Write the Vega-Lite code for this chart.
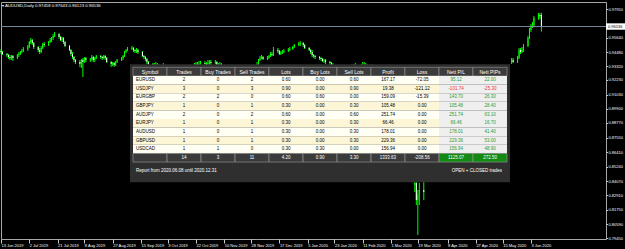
{
"$schema":"https://vega.github.io/schema/vega-lite/v6.json",
"width":605,"height":237,
"autosize":{"type":"none"},
"padding":{"left":1,"top":2,"right":19,"bottom":10},
"background":"#000000",
"config":{"view":{"stroke":"#a8a8a8","strokeWidth":1},"font":"Liberation Sans",
 "axis":{"labelOverlap":false,"labelBound":false,"labelFlush":false,"grid":false,"domain":false,"title":null,"labelFont":"Liberation Sans","labelFontSize":4,"labelColor":"#ffffff","tickColor":"#c8c8c8","tickWidth":1},
 "axisX":{"labelAlign":"left","labelBaseline":"top","labelPadding":0,"labelDx":1,"tickSize":4},
 "axisY":{"labelAlign":"left","labelBaseline":"middle","labelPadding":0.5,"tickSize":1.5}},
"title":{"text":"▾ AUDUSD,Daily  0.97458 0.97643 0.96123 0.96536","anchor":"start","frame":"group","orient":"top","offset":-6,"dx":1,"fontSize":4.3,"fontWeight":"normal","color":"#ffffff","font":"Liberation Sans"},
"datasets":{
"candles":[
{"d":"2019-06-13","o":0.94562,"h":0.94723,"l":0.94320,"c":0.94481},
{"d":"2019-06-14","o":0.94481,"h":0.94562,"l":0.94239,"c":0.94320},
{"d":"2019-06-17","o":0.94320,"h":0.94400,"l":0.94077,"c":0.94239},
{"d":"2019-06-18","o":0.94239,"h":0.94320,"l":0.93916,"c":0.94077},
{"d":"2019-06-19","o":0.94077,"h":0.94239,"l":0.93835,"c":0.93997},
{"d":"2019-06-20","o":0.93997,"h":0.94239,"l":0.93835,"c":0.94158},
{"d":"2019-06-21","o":0.94158,"h":0.94239,"l":0.93755,"c":0.93997},
{"d":"2019-06-24","o":0.93997,"h":0.94320,"l":0.93916,"c":0.94239},
{"d":"2019-06-25","o":0.94239,"h":0.94481,"l":0.94077,"c":0.94320},
{"d":"2019-06-26","o":0.94320,"h":0.94562,"l":0.94239,"c":0.94481},
{"d":"2019-06-27","o":0.94481,"h":0.94723,"l":0.94400,"c":0.94562},
{"d":"2019-06-28","o":0.94562,"h":0.94884,"l":0.94481,"c":0.94723},
{"d":"2019-07-01","o":0.94723,"h":0.95046,"l":0.94562,"c":0.94884},
{"d":"2019-07-02","o":0.94884,"h":0.95368,"l":0.94804,"c":0.95288},
{"d":"2019-07-03","o":0.95288,"h":0.95610,"l":0.95126,"c":0.95449},
{"d":"2019-07-04","o":0.95449,"h":0.95530,"l":0.95046,"c":0.95207},
{"d":"2019-07-05","o":0.95207,"h":0.95288,"l":0.94723,"c":0.94884},
{"d":"2019-07-08","o":0.94884,"h":0.94965,"l":0.94481,"c":0.94642},
{"d":"2019-07-09","o":0.94642,"h":0.94804,"l":0.94320,"c":0.94481},
{"d":"2019-07-10","o":0.94481,"h":0.94965,"l":0.94400,"c":0.94804},
{"d":"2019-07-11","o":0.94804,"h":0.95207,"l":0.94723,"c":0.95126},
{"d":"2019-07-12","o":0.95126,"h":0.95288,"l":0.94884,"c":0.95046},
{"d":"2019-07-15","o":0.95046,"h":0.95368,"l":0.94965,"c":0.95288},
{"d":"2019-07-16","o":0.95288,"h":0.95610,"l":0.95207,"c":0.95449},
{"d":"2019-07-17","o":0.95449,"h":0.95691,"l":0.95288,"c":0.95610},
{"d":"2019-07-18","o":0.95610,"h":0.95933,"l":0.95449,"c":0.95772},
{"d":"2019-07-19","o":0.95772,"h":0.96094,"l":0.95691,"c":0.95933},
{"d":"2019-07-22","o":0.95933,"h":0.96014,"l":0.95530,"c":0.95691},
{"d":"2019-07-23","o":0.95691,"h":0.95772,"l":0.95368,"c":0.95449},
{"d":"2019-07-24","o":0.95449,"h":0.95691,"l":0.95288,"c":0.95610},
{"d":"2019-07-25","o":0.95610,"h":0.95691,"l":0.95126,"c":0.95288},
{"d":"2019-07-26","o":0.95288,"h":0.95368,"l":0.94884,"c":0.94965},
{"d":"2019-07-29","o":0.94965,"h":0.95046,"l":0.94562,"c":0.94642},
{"d":"2019-07-30","o":0.94642,"h":0.94723,"l":0.94158,"c":0.94320},
{"d":"2019-07-31","o":0.94320,"h":0.94481,"l":0.93916,"c":0.94077},
{"d":"2019-08-01","o":0.94077,"h":0.94158,"l":0.93674,"c":0.93835},
{"d":"2019-08-02","o":0.93835,"h":0.93916,"l":0.93513,"c":0.93674},
{"d":"2019-08-05","o":0.93674,"h":0.93835,"l":0.93271,"c":0.93513},
{"d":"2019-08-06","o":0.93513,"h":0.93916,"l":0.93190,"c":0.93835},
{"d":"2019-08-07","o":0.93835,"h":0.93997,"l":0.92464,"c":0.93674},
{"d":"2019-08-08","o":0.93674,"h":0.94077,"l":0.93593,"c":0.93997},
{"d":"2019-08-09","o":0.93997,"h":0.94077,"l":0.93674,"c":0.93835},
{"d":"2019-08-12","o":0.93835,"h":0.93997,"l":0.93674,"c":0.93916},
{"d":"2019-08-13","o":0.93916,"h":0.94239,"l":0.93755,"c":0.94077},
{"d":"2019-08-14","o":0.94077,"h":0.94158,"l":0.93674,"c":0.93835},
{"d":"2019-08-15","o":0.93835,"h":0.94077,"l":0.93674,"c":0.93997},
{"d":"2019-08-16","o":0.93997,"h":0.94239,"l":0.93916,"c":0.94158},
{"d":"2019-08-19","o":0.94158,"h":0.94239,"l":0.93916,"c":0.94077},
{"d":"2019-08-20","o":0.94077,"h":0.94158,"l":0.93835,"c":0.93997},
{"d":"2019-08-21","o":0.93997,"h":0.94239,"l":0.93916,"c":0.94158},
{"d":"2019-08-22","o":0.94158,"h":0.94239,"l":0.93835,"c":0.93997},
{"d":"2019-08-23","o":0.93997,"h":0.94077,"l":0.93593,"c":0.93674},
{"d":"2019-08-26","o":0.93674,"h":0.93755,"l":0.93271,"c":0.93513},
{"d":"2019-08-27","o":0.93513,"h":0.93674,"l":0.93351,"c":0.93593},
{"d":"2019-08-28","o":0.93593,"h":0.93674,"l":0.93271,"c":0.93432},
{"d":"2019-08-29","o":0.93432,"h":0.93755,"l":0.93351,"c":0.93674},
{"d":"2019-08-30","o":0.93674,"h":0.93916,"l":0.93593,"c":0.93835},
{"d":"2019-09-02","o":0.93835,"h":0.94077,"l":0.93755,"c":0.93997},
{"d":"2019-09-03","o":0.93997,"h":0.94239,"l":0.93835,"c":0.94158},
{"d":"2019-09-04","o":0.94158,"h":0.94562,"l":0.94077,"c":0.94481},
{"d":"2019-09-05","o":0.94481,"h":0.94723,"l":0.94400,"c":0.94642},
{"d":"2019-09-06","o":0.94642,"h":0.94884,"l":0.94562,"c":0.94723},
{"d":"2019-09-09","o":0.94723,"h":0.94965,"l":0.94642,"c":0.94804},
{"d":"2019-09-10","o":0.94804,"h":0.94884,"l":0.94481,"c":0.94642},
{"d":"2019-09-11","o":0.94642,"h":0.94723,"l":0.94400,"c":0.94562},
{"d":"2019-09-12","o":0.94562,"h":0.94804,"l":0.94400,"c":0.94642},
{"d":"2019-09-13","o":0.94642,"h":0.94723,"l":0.94320,"c":0.94481},
{"d":"2019-09-16","o":0.94481,"h":0.94562,"l":0.94077,"c":0.94158},
{"d":"2019-09-17","o":0.94158,"h":0.94239,"l":0.93916,"c":0.94077},
{"d":"2019-09-18","o":0.94077,"h":0.94158,"l":0.93755,"c":0.93916},
{"d":"2019-09-19","o":0.93916,"h":0.93997,"l":0.93513,"c":0.93674},
{"d":"2019-09-20","o":0.93674,"h":0.93755,"l":0.93351,"c":0.93513},
{"d":"2019-09-23","o":0.93513,"h":0.93593,"l":0.93190,"c":0.93351},
{"d":"2019-09-24","o":0.93351,"h":0.93593,"l":0.93190,"c":0.93432},
{"d":"2019-09-25","o":0.93432,"h":0.93674,"l":0.93109,"c":0.93271},
{"d":"2019-09-26","o":0.93271,"h":0.93593,"l":0.93109,"c":0.93351},
{"d":"2019-09-27","o":0.93351,"h":0.93513,"l":0.93029,"c":0.93190},
{"d":"2019-09-30","o":0.93190,"h":0.93593,"l":0.93029,"c":0.93271},
{"d":"2019-10-21","o":0.93190,"h":0.93593,"l":0.93109,"c":0.93351},
{"d":"2019-10-22","o":0.93351,"h":0.93674,"l":0.93190,"c":0.93513},
{"d":"2019-10-23","o":0.93513,"h":0.93674,"l":0.93271,"c":0.93432},
{"d":"2019-10-24","o":0.93432,"h":0.93755,"l":0.93351,"c":0.93513},
{"d":"2019-10-25","o":0.93513,"h":0.93755,"l":0.93351,"c":0.93593},
{"d":"2019-10-28","o":0.93593,"h":0.93755,"l":0.93351,"c":0.93513},
{"d":"2019-10-29","o":0.93513,"h":0.93674,"l":0.93271,"c":0.93432},
{"d":"2019-10-30","o":0.93432,"h":0.93835,"l":0.93351,"c":0.93593},
{"d":"2019-10-31","o":0.93593,"h":0.93835,"l":0.93432,"c":0.93674},
{"d":"2019-11-01","o":0.93674,"h":0.93835,"l":0.93432,"c":0.93593},
{"d":"2019-11-04","o":0.93593,"h":0.93835,"l":0.93513,"c":0.93674},
{"d":"2019-11-05","o":0.93674,"h":0.93755,"l":0.93271,"c":0.93432},
{"d":"2019-11-06","o":0.93432,"h":0.93593,"l":0.93190,"c":0.93351},
{"d":"2019-11-07","o":0.93351,"h":0.93674,"l":0.93271,"c":0.93513},
{"d":"2019-11-08","o":0.93513,"h":0.93593,"l":0.93109,"c":0.93271},
{"d":"2019-12-02","o":0.93351,"h":0.93674,"l":0.93271,"c":0.93513},
{"d":"2019-12-03","o":0.93513,"h":0.93916,"l":0.93432,"c":0.93835},
{"d":"2019-12-04","o":0.93835,"h":0.94158,"l":0.93755,"c":0.93997},
{"d":"2019-12-05","o":0.93997,"h":0.94239,"l":0.93916,"c":0.94077},
{"d":"2019-12-06","o":0.94077,"h":0.94158,"l":0.93835,"c":0.93916},
{"d":"2019-12-09","o":0.93916,"h":0.94158,"l":0.93835,"c":0.93997},
{"d":"2019-12-10","o":0.93997,"h":0.94239,"l":0.93916,"c":0.94158},
{"d":"2019-12-11","o":0.94158,"h":0.94481,"l":0.94077,"c":0.94320},
{"d":"2019-12-12","o":0.94320,"h":0.94481,"l":0.94158,"c":0.94239},
{"d":"2019-12-13","o":0.94239,"h":0.94884,"l":0.94158,"c":0.94642},
{"d":"2019-12-16","o":0.94642,"h":0.94804,"l":0.94400,"c":0.94562},
{"d":"2019-12-17","o":0.94562,"h":0.94642,"l":0.94239,"c":0.94320},
{"d":"2019-12-18","o":0.94320,"h":0.94562,"l":0.94239,"c":0.94400},
{"d":"2019-12-19","o":0.94400,"h":0.94642,"l":0.94320,"c":0.94481},
{"d":"2019-12-20","o":0.94481,"h":0.94723,"l":0.94400,"c":0.94562},
{"d":"2019-12-23","o":0.94562,"h":0.94804,"l":0.94481,"c":0.94642},
{"d":"2019-12-24","o":0.94642,"h":0.94884,"l":0.94562,"c":0.94723},
{"d":"2019-12-26","o":0.94723,"h":0.94965,"l":0.94642,"c":0.94884},
{"d":"2019-12-27","o":0.94884,"h":0.95126,"l":0.94804,"c":0.95046},
{"d":"2019-12-30","o":0.95046,"h":0.95288,"l":0.94965,"c":0.95126},
{"d":"2019-12-31","o":0.95126,"h":0.95368,"l":0.94965,"c":0.95207},
{"d":"2020-01-02","o":0.95207,"h":0.95288,"l":0.94884,"c":0.95046},
{"d":"2020-01-03","o":0.95046,"h":0.95126,"l":0.94723,"c":0.94804},
{"d":"2020-01-06","o":0.94804,"h":0.94884,"l":0.94562,"c":0.94642},
{"d":"2020-01-07","o":0.94642,"h":0.94723,"l":0.94320,"c":0.94481},
{"d":"2020-01-08","o":0.94481,"h":0.94642,"l":0.94077,"c":0.94239},
{"d":"2020-01-09","o":0.94239,"h":0.94320,"l":0.93997,"c":0.94158},
{"d":"2020-01-10","o":0.94158,"h":0.94239,"l":0.93916,"c":0.94077},
{"d":"2020-01-13","o":0.94077,"h":0.94158,"l":0.93835,"c":0.93997},
{"d":"2020-01-14","o":0.93997,"h":0.94077,"l":0.93755,"c":0.93916},
{"d":"2020-01-15","o":0.93916,"h":0.93997,"l":0.93674,"c":0.93755},
{"d":"2020-01-16","o":0.93755,"h":0.93916,"l":0.93593,"c":0.93835},
{"d":"2020-01-17","o":0.93835,"h":0.93916,"l":0.93513,"c":0.93674},
{"d":"2020-01-20","o":0.93674,"h":0.93755,"l":0.93432,"c":0.93593},
{"d":"2020-01-21","o":0.93593,"h":0.93674,"l":0.93271,"c":0.93432},
{"d":"2020-01-22","o":0.93432,"h":0.93593,"l":0.93190,"c":0.93271},
{"d":"2020-01-23","o":0.93271,"h":0.93432,"l":0.93029,"c":0.93190},
{"d":"2020-02-05","o":0.92867,"h":0.93513,"l":0.92787,"c":0.93029},
{"d":"2020-02-06","o":0.93029,"h":0.93593,"l":0.92948,"c":0.93190},
{"d":"2020-02-07","o":0.93190,"h":0.93432,"l":0.92867,"c":0.93029},
{"d":"2020-02-10","o":0.93029,"h":0.93513,"l":0.92948,"c":0.93109},
{"d":"2020-02-11","o":0.93109,"h":0.93674,"l":0.93029,"c":0.93271},
{"d":"2020-02-12","o":0.93271,"h":0.93674,"l":0.93109,"c":0.93351},
{"d":"2020-02-13","o":0.93351,"h":0.93593,"l":0.93029,"c":0.93190},
{"d":"2020-02-14","o":0.93190,"h":0.93513,"l":0.92867,"c":0.93029},
{"d":"2020-02-17","o":0.93029,"h":0.93513,"l":0.92948,"c":0.93109},
{"d":"2020-03-17","o":0.83751,"h":0.84315,"l":0.83186,"c":0.83912},
{"d":"2020-03-18","o":0.83912,"h":0.84154,"l":0.82137,"c":0.82540},
{"d":"2020-03-19","o":0.82540,"h":0.83347,"l":0.79717,"c":0.82944},
{"d":"2020-03-20","o":0.82944,"h":0.83912,"l":0.82137,"c":0.83347},
{"d":"2020-03-23","o":0.83347,"h":0.83993,"l":0.82540,"c":0.83186},
{"d":"2020-05-21","o":0.93674,"h":0.93997,"l":0.93513,"c":0.93835},
{"d":"2020-05-22","o":0.93835,"h":0.93997,"l":0.93593,"c":0.93674},
{"d":"2020-05-25","o":0.93674,"h":0.94158,"l":0.93593,"c":0.93997},
{"d":"2020-05-26","o":0.93997,"h":0.94804,"l":0.93916,"c":0.94642},
{"d":"2020-05-27","o":0.94642,"h":0.94804,"l":0.94320,"c":0.94481},
{"d":"2020-05-28","o":0.94481,"h":0.94884,"l":0.94400,"c":0.94642},
{"d":"2020-05-29","o":0.94642,"h":0.95126,"l":0.94481,"c":0.94965},
{"d":"2020-06-01","o":0.94965,"h":0.95772,"l":0.94884,"c":0.95610},
{"d":"2020-06-02","o":0.95610,"h":0.96417,"l":0.95530,"c":0.96256},
{"d":"2020-06-03","o":0.96256,"h":0.96740,"l":0.96094,"c":0.96578},
{"d":"2020-06-04","o":0.96578,"h":0.96901,"l":0.96417,"c":0.96659},
{"d":"2020-06-05","o":0.96659,"h":0.97385,"l":0.96498,"c":0.97224},
{"d":"2020-06-08","o":0.97224,"h":0.97627,"l":0.97063,"c":0.97466},
{"d":"2020-06-09","o":0.97466,"h":0.97627,"l":0.97143,"c":0.97385},
{"d":"2020-06-10","o":0.97458,"h":0.97643,"l":0.96123,"c":0.96536}
],
"trades":[
{"Symbol":"EURUSD","Trades":"2","Buy Trades":"0","Sell Trades":"2","Lots":"0.60","Buy Lots":"0.00","Sell Lots":"0.60","Profit":"167.17","Loss":"-72.05","Nett P/L":"95.12","Nett PIPs":"22.00"},
{"Symbol":"USDJPY","Trades":"3","Buy Trades":"0","Sell Trades":"3","Lots":"0.90","Buy Lots":"0.00","Sell Lots":"0.90","Profit":"19.38","Loss":"-121.12","Nett P/L":"-101.74","Nett PIPs":"-25.30"},
{"Symbol":"EURGBP","Trades":"2","Buy Trades":"2","Sell Trades":"0","Lots":"0.60","Buy Lots":"0.60","Sell Lots":"0.00","Profit":"159.09","Loss":"-15.39","Nett P/L":"143.70","Nett PIPs":"26.30"},
{"Symbol":"GBPJPY","Trades":"1","Buy Trades":"0","Sell Trades":"1","Lots":"0.30","Buy Lots":"0.00","Sell Lots":"0.30","Profit":"105.48","Loss":"0.00","Nett P/L":"105.48","Nett PIPs":"28.40"},
{"Symbol":"AUDJPY","Trades":"2","Buy Trades":"0","Sell Trades":"2","Lots":"0.60","Buy Lots":"0.00","Sell Lots":"0.60","Profit":"251.74","Loss":"0.00","Nett P/L":"251.74","Nett PIPs":"63.10"},
{"Symbol":"EURJPY","Trades":"1","Buy Trades":"0","Sell Trades":"1","Lots":"0.30","Buy Lots":"0.00","Sell Lots":"0.30","Profit":"66.46","Loss":"0.00","Nett P/L":"66.46","Nett PIPs":"16.70"},
{"Symbol":"AUDUSD","Trades":"1","Buy Trades":"0","Sell Trades":"1","Lots":"0.30","Buy Lots":"0.00","Sell Lots":"0.30","Profit":"178.01","Loss":"0.00","Nett P/L":"178.01","Nett PIPs":"41.40"},
{"Symbol":"GBPUSD","Trades":"1","Buy Trades":"0","Sell Trades":"1","Lots":"0.30","Buy Lots":"0.00","Sell Lots":"0.30","Profit":"229.36","Loss":"0.00","Nett P/L":"229.36","Nett PIPs":"53.00"},
{"Symbol":"USDCAD","Trades":"1","Buy Trades":"1","Sell Trades":"0","Lots":"0.30","Buy Lots":"0.30","Sell Lots":"0.00","Profit":"156.94","Loss":"0.00","Nett P/L":"156.94","Nett PIPs":"48.90"}
],
"totals":[
{"row":"total","Symbol":"","Trades":"14","Buy Trades":"3","Sell Trades":"11","Lots":"4.20","Buy Lots":"0.90","Sell Lots":"3.30","Profit":"1333.63","Loss":"-208.56","Nett P/L":"1125.07","Nett PIPs":"272.50"}
],
"cols":[{"col":"Symbol"},{"col":"Trades"},{"col":"Buy Trades"},{"col":"Sell Trades"},{"col":"Lots"},{"col":"Buy Lots"},{"col":"Sell Lots"},{"col":"Profit"},{"col":"Loss"},{"col":"Nett P/L"},{"col":"Nett PIPs"}]
},
"layer":[
{
"layer":[
{"data":{"name":"candles"},
 "mark":{"type":"rule","color":"#00ff00","strokeWidth":1},
 "encoding":{
  "x":{"field":"d","type":"temporal",
   "scale":{"type":"utc","domain":[{"year":2019,"month":6,"date":13,"utc":true},{"year":2020,"month":7,"date":23,"hours":9,"minutes":36,"utc":true}]},
   "axis":{"orient":"bottom","tickCount":100,
    "values":[{"year":2019,"month":6,"date":13,"utc":true},{"year":2019,"month":7,"date":2,"utc":true},{"year":2019,"month":7,"date":21,"utc":true},{"year":2019,"month":8,"date":8,"utc":true},{"year":2019,"month":8,"date":27,"utc":true},{"year":2019,"month":9,"date":15,"utc":true},{"year":2019,"month":10,"date":3,"utc":true},{"year":2019,"month":10,"date":22,"utc":true},{"year":2019,"month":11,"date":10,"utc":true},{"year":2019,"month":11,"date":28,"utc":true},{"year":2019,"month":12,"date":17,"utc":true},{"year":2020,"month":1,"date":5,"utc":true},{"year":2020,"month":1,"date":23,"utc":true},{"year":2020,"month":2,"date":11,"utc":true},{"year":2020,"month":3,"date":1,"utc":true},{"year":2020,"month":3,"date":19,"utc":true},{"year":2020,"month":4,"date":8,"utc":true},{"year":2020,"month":4,"date":27,"utc":true},{"year":2020,"month":5,"date":15,"utc":true},{"year":2020,"month":6,"date":3,"utc":true}],
    "labelExpr":"utcFormat(datum.value, '%-d %b %Y')","labelOverlap":false}},
  "y":{"field":"l","type":"quantitative",
   "scale":{"domain":[0.79394,0.98515],"nice":false,"zero":false},
   "axis":{"orient":"right","tickCount":100,
    "values":[0.9795,0.9564,0.9448,0.9332,0.9223,0.9103,0.8990,0.8877,0.8755,0.8641,0.8524,0.8407,0.8291,0.8175,0.8059,0.7945],
    "labelExpr":"format(datum.value, '.5f')","labelOverlap":false}},
  "y2":{"field":"h"}}},
{"data":{"name":"candles"},
 "mark":{"type":"rule","strokeWidth":1},
 "encoding":{
  "x":{"field":"d","type":"temporal"},
  "y":{"field":"o","type":"quantitative"},
  "y2":{"field":"c"},
  "color":{"condition":{"test":"datum.c < datum.o","value":"#ffffff"},"value":"#00ff00"}}},
{"data":{"values":[{"price":0.96536}]},
 "mark":{"type":"rule","color":"#778899","strokeWidth":1},
 "encoding":{"y":{"field":"price","type":"quantitative"}}},
{"data":{"values":[{"price":0.96536}]},
 "mark":{"type":"point","shape":"M0,-0.32H1.9V0.32H0Z","size":400,"filled":true,"color":"#ffffff","opacity":1,"strokeWidth":0},
 "encoding":{"x":{"value":"width"},"y":{"field":"price","type":"quantitative"}}},
{"data":{"values":[{"price":0.96536}]},
 "mark":{"type":"text","align":"left","baseline":"middle","dx":2,"fontSize":4,"font":"Liberation Sans","color":"#000000"},
 "encoding":{"x":{"value":"width"},"y":{"field":"price","type":"quantitative"},"text":{"field":"price","type":"quantitative","format":".5f"}}}
]
},
{
"layer":[
{"data":{"values":[{"panel":"stats"}]},
 "mark":{"type":"rect","fill":"#2f2f2f","stroke":"#2f2f2f","strokeWidth":6},
 "encoding":{
  "x":{"datum":"Symbol","type":"nominal","bandPosition":0,
   "scale":{"domain":["Symbol","Trades","Buy Trades","Sell Trades","Lots","Buy Lots","Sell Lots","Profit","Loss","Nett P/L","Nett PIPs"],"range":[132,506],"paddingInner":0,"paddingOuter":0},"axis":null},
  "x2":{"datum":"Nett PIPs","bandPosition":1},
  "y":{"datum":"header","type":"nominal","bandPosition":0,
   "scale":{"domain":["header","EURUSD","USDJPY","EURGBP","GBPJPY","AUDJPY","EURJPY","AUDUSD","GBPUSD","USDCAD","total","footer","footer2"],"range":[65.3,177.3],"paddingInner":0,"paddingOuter":0},"axis":null},
  "y2":{"datum":"footer2","bandPosition":1}}},
{"data":{"name":"cols"},
 "mark":{"type":"rect","fill":"#3b3b3b","stroke":"#9a9a9a","strokeWidth":0.6},
 "encoding":{"x":{"field":"col","type":"nominal","axis":null},"y":{"datum":"header","type":"nominal","axis":null}}},
{"data":{"name":"cols"},
 "mark":{"type":"text","color":"#ffffff","fontSize":5,"font":"Liberation Sans","baseline":"middle"},
 "encoding":{"x":{"field":"col","type":"nominal","axis":null},"y":{"datum":"header","type":"nominal","axis":null},"text":{"field":"col"}}},
{"data":{"name":"trades"},
 "transform":[{"fold":["Symbol","Trades","Buy Trades","Sell Trades","Lots","Buy Lots","Sell Lots","Profit","Loss","Nett P/L","Nett PIPs"]}],
 "mark":{"type":"rect"},
 "encoding":{"x":{"field":"key","type":"nominal","axis":null},"y":{"field":"Symbol","type":"nominal","axis":null},
  "fill":{"condition":[{"test":"datum.key==='Nett P/L'||datum.key==='Nett PIPs'","value":"#efefef"},{"test":"indexof(['USDJPY','GBPJPY','EURJPY','GBPUSD'],datum.Symbol)>=0","value":"#fdf6d6"}],"value":"#fffff4"}}},
{"data":{"name":"trades"},
 "transform":[{"fold":["Trades","Buy Trades","Sell Trades","Lots","Buy Lots","Sell Lots","Profit","Loss","Nett P/L","Nett PIPs"]}],
 "mark":{"type":"text","fontSize":4.5,"font":"Liberation Sans","baseline":"middle"},
 "encoding":{"x":{"field":"key","type":"nominal","axis":null},"y":{"field":"Symbol","type":"nominal","axis":null},"text":{"field":"value"},
  "color":{"condition":[{"test":"(datum.key==='Nett P/L'||datum.key==='Nett PIPs')&&toNumber(datum.value)<0","value":"#e8323c"},{"test":"datum.key==='Nett P/L'||datum.key==='Nett PIPs'","value":"#2e9a2e"}],"value":"#000000"}}},
{"data":{"name":"trades"},
 "mark":{"type":"text","fontSize":4.5,"font":"Liberation Sans","baseline":"middle","align":"left","dx":3,"color":"#000000"},
 "encoding":{"x":{"datum":"Symbol","type":"nominal","bandPosition":0,"axis":null},"y":{"field":"Symbol","type":"nominal","axis":null},"text":{"field":"Symbol"}}},
{"data":{"name":"totals"},
 "transform":[{"fold":["Symbol","Trades","Buy Trades","Sell Trades","Lots","Buy Lots","Sell Lots","Profit","Loss","Nett P/L","Nett PIPs"]}],
 "mark":{"type":"rect","stroke":"#9a9a9a","strokeWidth":0.6},
 "encoding":{"x":{"field":"key","type":"nominal","axis":null},"y":{"field":"row","type":"nominal","axis":null},
  "fill":{"condition":{"test":"datum.key==='Nett P/L'||datum.key==='Nett PIPs'","value":"#138a13"},"value":"#3b3b3b"}}},
{"data":{"name":"totals"},
 "transform":[{"fold":["Trades","Buy Trades","Sell Trades","Lots","Buy Lots","Sell Lots","Profit","Loss","Nett P/L","Nett PIPs"]}],
 "mark":{"type":"text","fontSize":4.5,"font":"Liberation Sans","baseline":"middle","color":"#ffffff"},
 "encoding":{"x":{"field":"key","type":"nominal","axis":null},"y":{"field":"row","type":"nominal","axis":null},"text":{"field":"value"}}},
{"data":{"values":[{"label":"Report from 2020.06.08 until 2020.12.31"}]},
 "mark":{"type":"text","fontSize":4.5,"font":"Liberation Sans","baseline":"middle","align":"left","dx":3,"color":"#ffffff"},
 "encoding":{"x":{"datum":"Symbol","type":"nominal","bandPosition":0,"axis":null},"y":{"datum":"footer","type":"nominal","bandPosition":1,"axis":null},"text":{"field":"label"}}},
{"data":{"values":[{"label":"OPEN + CLOSED trades"}]},
 "mark":{"type":"text","fontSize":4.5,"font":"Liberation Sans","baseline":"middle","align":"right","dx":-5,"color":"#ffffff"},
 "encoding":{"x":{"datum":"Nett PIPs","type":"nominal","bandPosition":1,"axis":null},"y":{"datum":"footer","type":"nominal","bandPosition":1,"axis":null},"text":{"field":"label"}}}
]
}
],
"resolve":{"scale":{"x":"independent","y":"independent"}}
}
